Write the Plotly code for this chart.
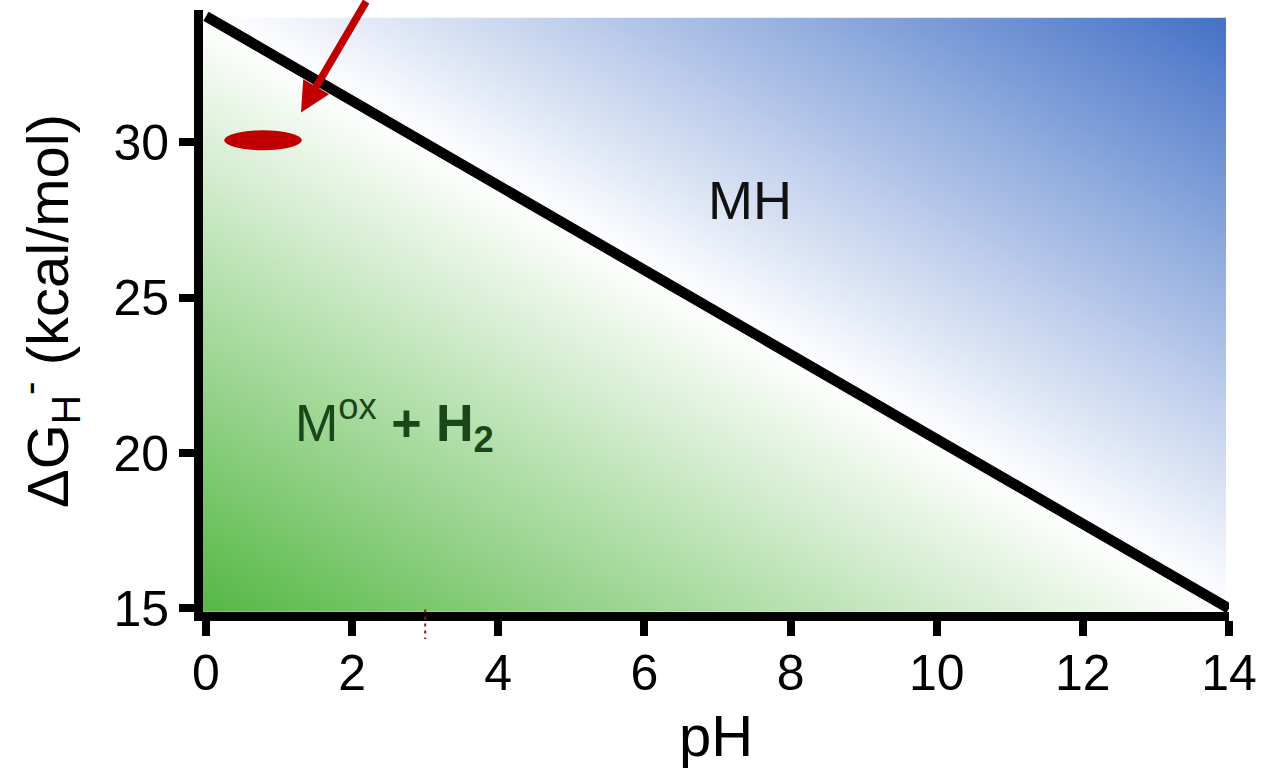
import numpy as np
import plotly.graph_objects as go

# ---- data ----
boundary_ph = [0.0, 14.0]
boundary_dg = [34.05, 15.0]

x_ticks = [0, 2, 4, 6, 8, 10, 12, 14]
y_ticks = [15, 20, 25, 30]

region_labels = ["MH", "M<sup>ox</sup> <b>+ H<sub>2</sub></b>"]
region_x = [7.44, 1.19]
region_y = [28.13, 20.96]

marker_ph = 0.78      # red ellipse centre
marker_dg = 30.06
marker_half_w = 0.53
marker_half_h = 0.32

arrow_tip_ph = 1.30
arrow_tip_dg = 30.95

dashed_ph = 3.0

X_RANGE = [-0.041, 14.0]
Y_RANGE = [14.887, 34.25]

# ---- background gradient (signed offset from the boundary line) ----
N, M = 140, 90
xe = np.linspace(X_RANGE[0], 13.96, N + 1)
ye = np.linspace(14.9, 34.0, M + 1)
xc = (xe[:-1] + xe[1:]) / 2
yc = (ye[:-1] + ye[1:]) / 2
slope = (boundary_dg[1] - boundary_dg[0]) / (boundary_ph[1] - boundary_ph[0])
XX, YY = np.meshgrid(xc, yc)
Z = YY - (boundary_dg[0] + slope * (XX - boundary_ph[0]))
zmax = 19.1

fig = go.Figure()
fig.add_trace(go.Heatmap(
    x=xc, y=yc, z=Z, zmin=-zmax, zmax=zmax, zsmooth="best",
    colorscale=[[0, "#56b845"], [0.5, "#ffffff"], [1, "#4270c6"]],
    showscale=False, hoverinfo="skip"))

fig.add_trace(go.Scatter(
    x=boundary_ph, y=boundary_dg, mode="lines",
    line=dict(color="black", width=10.5), showlegend=False, hoverinfo="skip"))

FONT = "Liberation Sans, Arial, sans-serif"

fig.add_annotation(x=region_x[0], y=region_y[0], text=region_labels[0],
                   showarrow=False, font=dict(family=FONT, size=54, color="#111111"))
fig.add_annotation(x=region_x[1], y=region_y[1], text=region_labels[1],
                   showarrow=False, xanchor="left",
                   font=dict(family=FONT, size=52, color="#1a461a"))

# red arrow
fig.add_annotation(x=arrow_tip_ph, y=arrow_tip_dg, text="", showarrow=True,
                   ax=66, ay=-125, arrowcolor="#c00000", arrowwidth=7.5,
                   arrowsize=0.8, arrowhead=2)

# red ellipse
fig.add_shape(type="circle", xref="x", yref="y",
              x0=marker_ph - marker_half_w, x1=marker_ph + marker_half_w,
              y0=marker_dg - marker_half_h, y1=marker_dg + marker_half_h,
              fillcolor="#c00000", line=dict(width=0))

# small red dashed mark at pH 3
fig.add_shape(type="line", xref="x", yref="paper", x0=dashed_ph, x1=dashed_ph,
              y0=0.004, y1=-0.045, line=dict(color="#8b1a1a", width=2, dash="3px,4px"),
              layer="above")

fig.update_layout(
    width=1262, height=768,
    margin=dict(l=203, r=33, t=10, b=156, autoexpand=False),
    paper_bgcolor="white", plot_bgcolor="white",
    showlegend=False,
    font=dict(family=FONT, color="black"),
)
fig.update_xaxes(
    range=X_RANGE, tickvals=x_ticks, showgrid=False, zeroline=False,
    automargin=False,
    showline=True, linecolor="black", linewidth=9,
    ticks="outside", ticklen=15, tickwidth=8, tickcolor="black",
    ticklabelstandoff=-6,
    tickfont=dict(family=FONT, size=50, color="black"),
    title=dict(text="pH", font=dict(family=FONT, size=58, color="black"), standoff=24),
)
fig.update_yaxes(
    range=Y_RANGE, tickvals=y_ticks, showgrid=False, zeroline=False,
    automargin=False,
    showline=True, linecolor="black", linewidth=9,
    ticks="outside", ticklen=15, tickwidth=8, tickcolor="black",
    tickfont=dict(family=FONT, size=50, color="black"),
    title=dict(text="ΔG<sub>H</sub><sup>-</sup> (kcal/mol)",
               font=dict(family=FONT, size=58, color="black"), standoff=30),
)

fig.write_html("out.html")
